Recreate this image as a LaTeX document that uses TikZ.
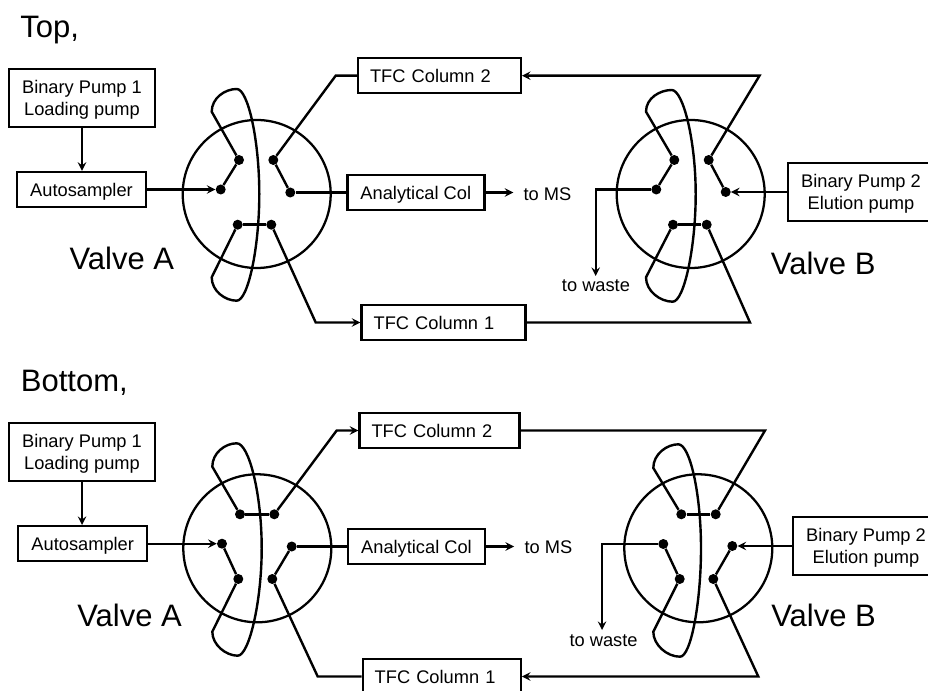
\documentclass[tikz,border=0pt]{standalone}
\usepackage{fontspec}
\setmainfont{Liberation Sans}
\usetikzlibrary{arrows.meta, positioning}
\begin{document}
\begin{tikzpicture}[
        x=0.75pt, y=-0.75pt,
        box/.style={rectangle, draw, line width=1.8pt, inner sep=0pt, align=center, font=\fontsize{13.7}{17}\selectfont},
        pump/.style={box, text depth=0pt, minimum width=109.5pt, minimum height=43.5pt},
        sampler/.style={box, text height=10.5pt, text depth=0pt, minimum width=96.75pt, minimum height=26.25pt},
        anacol/.style={box, text height=10.5pt, text depth=0pt, minimum width=102.75pt, minimum height=26.25pt},
        tfc/.style={box, align=left, inner xsep=9pt, text width=#1, text height=10.5pt, text depth=0pt, minimum height=26.25pt},
        valve/.style={circle, draw, line width=1.7pt, inner sep=0pt, minimum size=111pt},
        port/.style={circle, fill=black, inner sep=0pt, minimum size=7.5pt},
        small/.style={inner sep=0pt, anchor=base west, font=\fontsize{13.7}{17}\selectfont},
        big/.style={inner sep=0pt, anchor=base west, font=\fontsize{23.25}{28}\selectfont},
        pipe/.style={line width=1.8pt},
        arr/.style={->, >=stealth, line width=1.8pt}
    ]
        \useasboundingbox (0,0) rectangle (928,691);
        \clip (0,0) rectangle (928,691);

        % Top
        \node[big] (ttitle) at (20,38) {Top,};
        \node[pump] (tpa) at (82,98) {Binary Pump 1\\Loading pump};
        \node[sampler] (tas) at (81.5,189.5) {Autosampler};
        \node[valve] (tva) at (256.7,194) {};
        \node[port] (ta1) at (239,160) {};
        \node[port] (ta2) at (273.3,160) {};
        \node[port] (ta3) at (220.7,189.5) {};
        \node[port] (ta4) at (290.3,192.5) {};
        \node[port] (ta5) at (237.7,224.7) {};
        \node[port] (ta6) at (271.3,224.7) {};
        \node[big] (tla) at (69.3,270) {Valve A};
        \node[anacol] (tac) at (415.8,192.5) {Analytical Col};
        \node[small] (tms) at (523.3,201) {to MS};
        \node[tfc=104pt] (tc2) at (439.4,75.7) {TFC Column 2};
        \node[tfc=105pt] (tc1) at (443.6,322.5) {TFC Column 1};
        \node[valve] (tvb) at (690.7,194) {};
        \node[port] (tb1) at (674.3,160) {};
        \node[port] (tb2) at (708.7,160) {};
        \node[port] (tb3) at (656.3,189.5) {};
        \node[port] (tb4) at (725.7,192) {};
        \node[port] (tb5) at (673,224.7) {};
        \node[port] (tb6) at (706.7,224.7) {};
        \node[big] (tlb) at (770.7,274.3) {Valve B};
        \node[pump] (tpb) at (861,192) {Binary Pump 2\\Elution pump};
        \node[small] (tw) at (561.7,291.7) {to waste};
        \coordinate (tk2) at (335.7,75.7);
        \coordinate (tk6) at (315.7,322.5);
        \coordinate (tj2) at (759.5,75.7);
        \coordinate (tj6) at (750,322.5);
        \coordinate (tk3) at (595.7,189.5);
        \coordinate (te3) at (595.7,276);
        \coordinate (tms0) at (513.3,192.5);

        \draw[arr] (tpa.south) -- (tpa.south |- tas.north);
        \draw[arr] (tas.east) -- (ta3);
        \draw[pipe] (ta1) -- (ta3);
        \draw[pipe] (ta2) -- (ta4);
        \draw[pipe] (ta5) -- (ta6);
        \draw[pipe] (ta4) -- (tac.west);
        \draw[arr] (tac.east) -- (tms0);
        \draw[pipe] (ta2) -- (tk2) -- (tc2.west);
        \draw[arr] (ta6) -- (tk6) -- (tc1.west);
        \draw[pipe] (ta1) -- (211.7,111.7) .. controls (211.7,98) and (225,89) .. (236.7,89)
            .. controls (248,89) and (259.3,140) .. (259.3,194)
            .. controls (259.3,248) and (248,300.7) .. (236.7,300.7)
            .. controls (225,300.7) and (211.7,291) .. (211.7,277.3) -- (ta5);
        \draw[pipe] (tb1) -- (tb3);
        \draw[pipe] (tb2) -- (tb4);
        \draw[pipe] (tb5) -- (tb6);
        \draw[arr] (tb3) -- (tk3) -- (te3);
        \draw[arr] (tpb.west) -- (tb4);
        \draw[arr] (tb2) -- (tj2) -- (tc2.east);
        \draw[pipe] (tb6) -- (tj6) -- (tc1.east);
        \draw[pipe] (tb1) -- (646,111.7) .. controls (646,98) and (660,90) .. (671.7,90)
            .. controls (683,90) and (695.7,140) .. (695.7,194)
            .. controls (695.7,248) and (684,301.7) .. (672.7,301.7)
            .. controls (660,301.7) and (646,291) .. (646,277.3) -- (tb5);

        % Bottom
        \node[big] (btitle) at (20.7,391.7) {Bottom,};
        \node[pump] (bpa) at (82,452) {Binary Pump 1\\Loading pump};
        \node[sampler] (bas) at (82.7,543.7) {Autosampler};
        \node[valve] (bva) at (257.3,548.3) {};
        \node[port] (ba1) at (240,514.3) {};
        \node[port] (ba2) at (274.3,514.3) {};
        \node[port] (ba3) at (222,543.7) {};
        \node[port] (ba4) at (291.7,546.5) {};
        \node[port] (ba5) at (238.3,579) {};
        \node[port] (ba6) at (272.3,579) {};
        \node[big] (bla) at (77,626.7) {Valve A};
        \node[anacol] (bac) at (416.5,546.5) {Analytical Col};
        \node[small] (bms) at (524.3,553.3) {to MS};
        \node[tfc=102pt] (bc2) at (439.5,430.5) {TFC Column 2};
        \node[tfc=100.5pt] (bc1) at (441.7,676.5) {TFC Column 1};
        \node[valve] (bvb) at (698.3,548.3) {};
        \node[port] (bb1) at (681.3,514.3) {};
        \node[port] (bb2) at (715.7,514.3) {};
        \node[port] (bb3) at (663.3,544) {};
        \node[port] (bb4) at (732.3,546) {};
        \node[port] (bb5) at (679.7,579) {};
        \node[port] (bb6) at (713.3,579) {};
        \node[big] (blb) at (771,626.7) {Valve B};
        \node[pump] (bpb) at (866,546) {Binary Pump 2\\Elution pump};
        \node[small] (bw) at (569.3,646.7) {to waste};
        \coordinate (bk2) at (336.7,430.5);
        \coordinate (bk6) at (317.7,676.5);
        \coordinate (bj2) at (765,430.5);
        \coordinate (bj6) at (758.3,676.5);
        \coordinate (bk3) at (602,544);
        \coordinate (be3) at (602,630);
        \coordinate (bms0) at (514,546.5);

        \draw[arr] (bpa.south) -- (bpa.south |- bas.north);
        \draw[arr] (bas.east) -- (ba3);
        \draw[pipe] (ba1) -- (ba2);
        \draw[pipe] (ba3) -- (ba5);
        \draw[pipe] (ba4) -- (ba6);
        \draw[pipe] (ba4) -- (bac.west);
        \draw[arr] (bac.east) -- (bms0);
        \draw[arr] (ba2) -- (bk2) -- (bc2.west);
        \draw[pipe] (ba6) -- (bk6) -- (bc1.west);
        \draw[pipe] (ba1) -- (212.3,466.7) .. controls (212.3,453) and (225,443.3) .. (236.7,443.3)
            .. controls (249,443.3) and (261.7,494) .. (261.7,548.3)
            .. controls (261.7,602) and (249,655.7) .. (237.7,655.7)
            .. controls (226,655.7) and (212.3,645) .. (212.3,631.7) -- (ba5);
        \draw[pipe] (bb1) -- (bb2);
        \draw[pipe] (bb3) -- (bb5);
        \draw[pipe] (bb4) -- (bb6);
        \draw[arr] (bb3) -- (bk3) -- (be3);
        \draw[arr] (bpb.west) -- (bb4);
        \draw[pipe] (bb2) -- (bj2) -- (bc2.east);
        \draw[arr] (bb6) -- (bj6) -- (bc1.east);
        \draw[pipe] (bb1) -- (653.3,468) .. controls (653.3,454) and (667,444.3) .. (678.3,444.3)
            .. controls (690,444.3) and (701,494) .. (701,548.3)
            .. controls (701,602) and (691,656.7) .. (680,656.7)
            .. controls (667,656.7) and (653.3,645) .. (653.3,631.7) -- (bb5);
    \end{tikzpicture}
\end{document}
